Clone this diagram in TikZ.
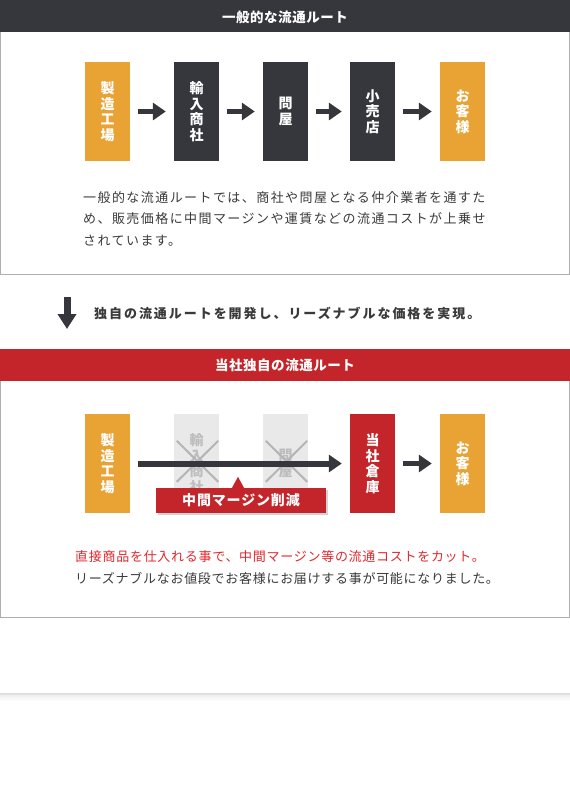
\documentclass[tikz,border=0pt]{standalone}
\usepackage{fontspec}
\setmainfont{Noto Sans CJK JP}
\usetikzlibrary{arrows.meta,calc,shadows}

\definecolor{hdark}{HTML}{36373C}
\definecolor{tileorange}{HTML}{E9A234}
\definecolor{cutred}{HTML}{C4252A}
\definecolor{txtred}{HTML}{E3262B}
\definecolor{txtgray}{HTML}{3A3A3A}
\definecolor{framegray}{HTML}{AFAFAF}
\definecolor{ghostfill}{HTML}{E9E9E9}
\definecolor{ghosttext}{HTML}{BDBDBD}
\definecolor{crossgray}{HTML}{B5B5B5}

\begin{document}
\begin{tikzpicture}[x=1pt, y=-1pt,
    tile/.style={minimum width=45pt, minimum height=99pt, inner sep=0pt,
        text=white, align=center, font=\fontsize{14}{15.5}\selectfont\bfseries},
    flow/.style={line width=5pt, draw=hdark, shorten <=8pt, shorten >=8pt,
        -{Triangle[length=13pt, width=17pt]}},
    headline/.style={text=white, anchor=base,
        font=\fontsize{13.5}{16}\selectfont\bfseries\addfontfeature{LetterSpace=4}},
    bodyline/.style={anchor=base west, inner sep=0pt, text=txtgray,
        font=\fontsize{13}{16}\selectfont\addfontfeature{LetterSpace=11}},
    noteline/.style={anchor=base west, inner sep=0pt, text=txtgray,
        font=\fontsize{13}{16}\selectfont\addfontfeature{LetterSpace=5.5}}]
    \useasboundingbox (0,0) rectangle (570,785);

    % common route
    \draw[framegray] (0.5,0.5) rectangle (569.5,274);
    \fill[hdark] (0,0) rectangle (570,32);
    \node[headline] (title1) at (285,22) {一般的な流通ルート};

    \node[tile, fill=tileorange] (maker) at (107.5,111.5) {製\\造\\工\\場};
    \node[tile, fill=hdark] (importer) at (196.5,111.5) {輸\\入\\商\\社};
    \node[tile, fill=hdark] (wholesale) at (285.5,111.5) {問\\屋};
    \node[tile, fill=hdark] (retail) at (372.5,111.5) {小\\売\\店};
    \node[tile, fill=tileorange] (customer) at (462.5,111.5) {お\\客\\様};

    \draw[flow] (maker) -- (importer);
    \draw[flow] (importer) -- (wholesale);
    \draw[flow] (wholesale) -- (retail);
    \draw[flow] (retail) -- (customer);

    \node[bodyline] (body1) at (83,202) {一般的な流通ルートでは、商社や問屋となる仲介業者を通すた};
    \node[bodyline] (body2) at (83,223.5) {め、販売価格に中間マージンや運賃などの流通コストが上乗せ};
    \node[bodyline] (body3) at (83,245) {されています。};

    % step down
    \coordinate (dtop) at (67,297);
    \coordinate (dbot) at (67,329);
    \draw[line width=7pt, hdark, -{Triangle[length=15pt, width=18pt]}] (dtop) -- (dbot);
    \node[anchor=base west, inner sep=0pt, text=txtgray,
        font=\fontsize{13}{16}\selectfont\bfseries\addfontfeature{LetterSpace=15}]
        (lead) at (94,318) {独自の流通ルートを開発し、リーズナブルな価格を実現。};

    % own route
    \draw[framegray] (0.5,349) rectangle (569.5,617);
    \fill[cutred] (0,349) rectangle (570,381);
    \node[headline] (title2) at (285,370) {当社独自の流通ルート};

    \node[tile, fill=tileorange] (maker2) at (107.5,463.5) {製\\造\\工\\場};
    \node[tile, fill=ghostfill, text=ghosttext] (importer2) at (196.5,463.5) {輸\\入\\商\\社};
    \node[tile, fill=ghostfill, text=ghosttext] (wholesale2) at (285.5,463.5) {問\\屋};
    \node[tile, fill=cutred] (depot) at (372.5,463.5) {当\\社\\倉\\庫};
    \node[tile, fill=tileorange] (customer2) at (462.5,463.5) {お\\客\\様};

    \foreach \g in {importer2, wholesale2} {
        \draw[crossgray, line width=2pt]
            ($(\g.north west)+(3,27)$) -- ($(\g.north east)+(-1,68)$)
            ($(\g.north east)+(-1,27)$) -- ($(\g.north west)+(3,68)$);
    }

    \draw[flow, line width=6pt] (maker2) -- (depot);
    \draw[flow] (depot) -- (customer2);

    \node[fill=cutred, text=white, minimum width=170pt, minimum height=25pt, inner sep=0pt,
        drop shadow={opacity=0.35, shadow xshift=1.5pt, shadow yshift=-1.5pt},
        font=\fontsize{14}{16}\selectfont\bfseries\addfontfeature{LetterSpace=6}]
        (cut) at (241,500.5) {中間マージン削減};
    \fill[cutred] ([xshift=-9pt]cut.north) -- ([xshift=-3pt, yshift=11pt]cut.north)
        -- ([xshift=3pt]cut.north) -- cycle;

    \node[noteline, text=txtred] (note1) at (75,561) {直接商品を仕入れる事で、中間マージン等の流通コストをカット。};
    \node[noteline] (note2) at (75,583) {リーズナブルなお値段でお客様にお届けする事が可能になりました。};

    % page rule
    \draw[gray!25, line width=1.5pt] (0,694) -- (570,694);
    \shade[top color=gray!12, bottom color=white] (0,695) rectangle (570,701);
\end{tikzpicture}
\end{document}
